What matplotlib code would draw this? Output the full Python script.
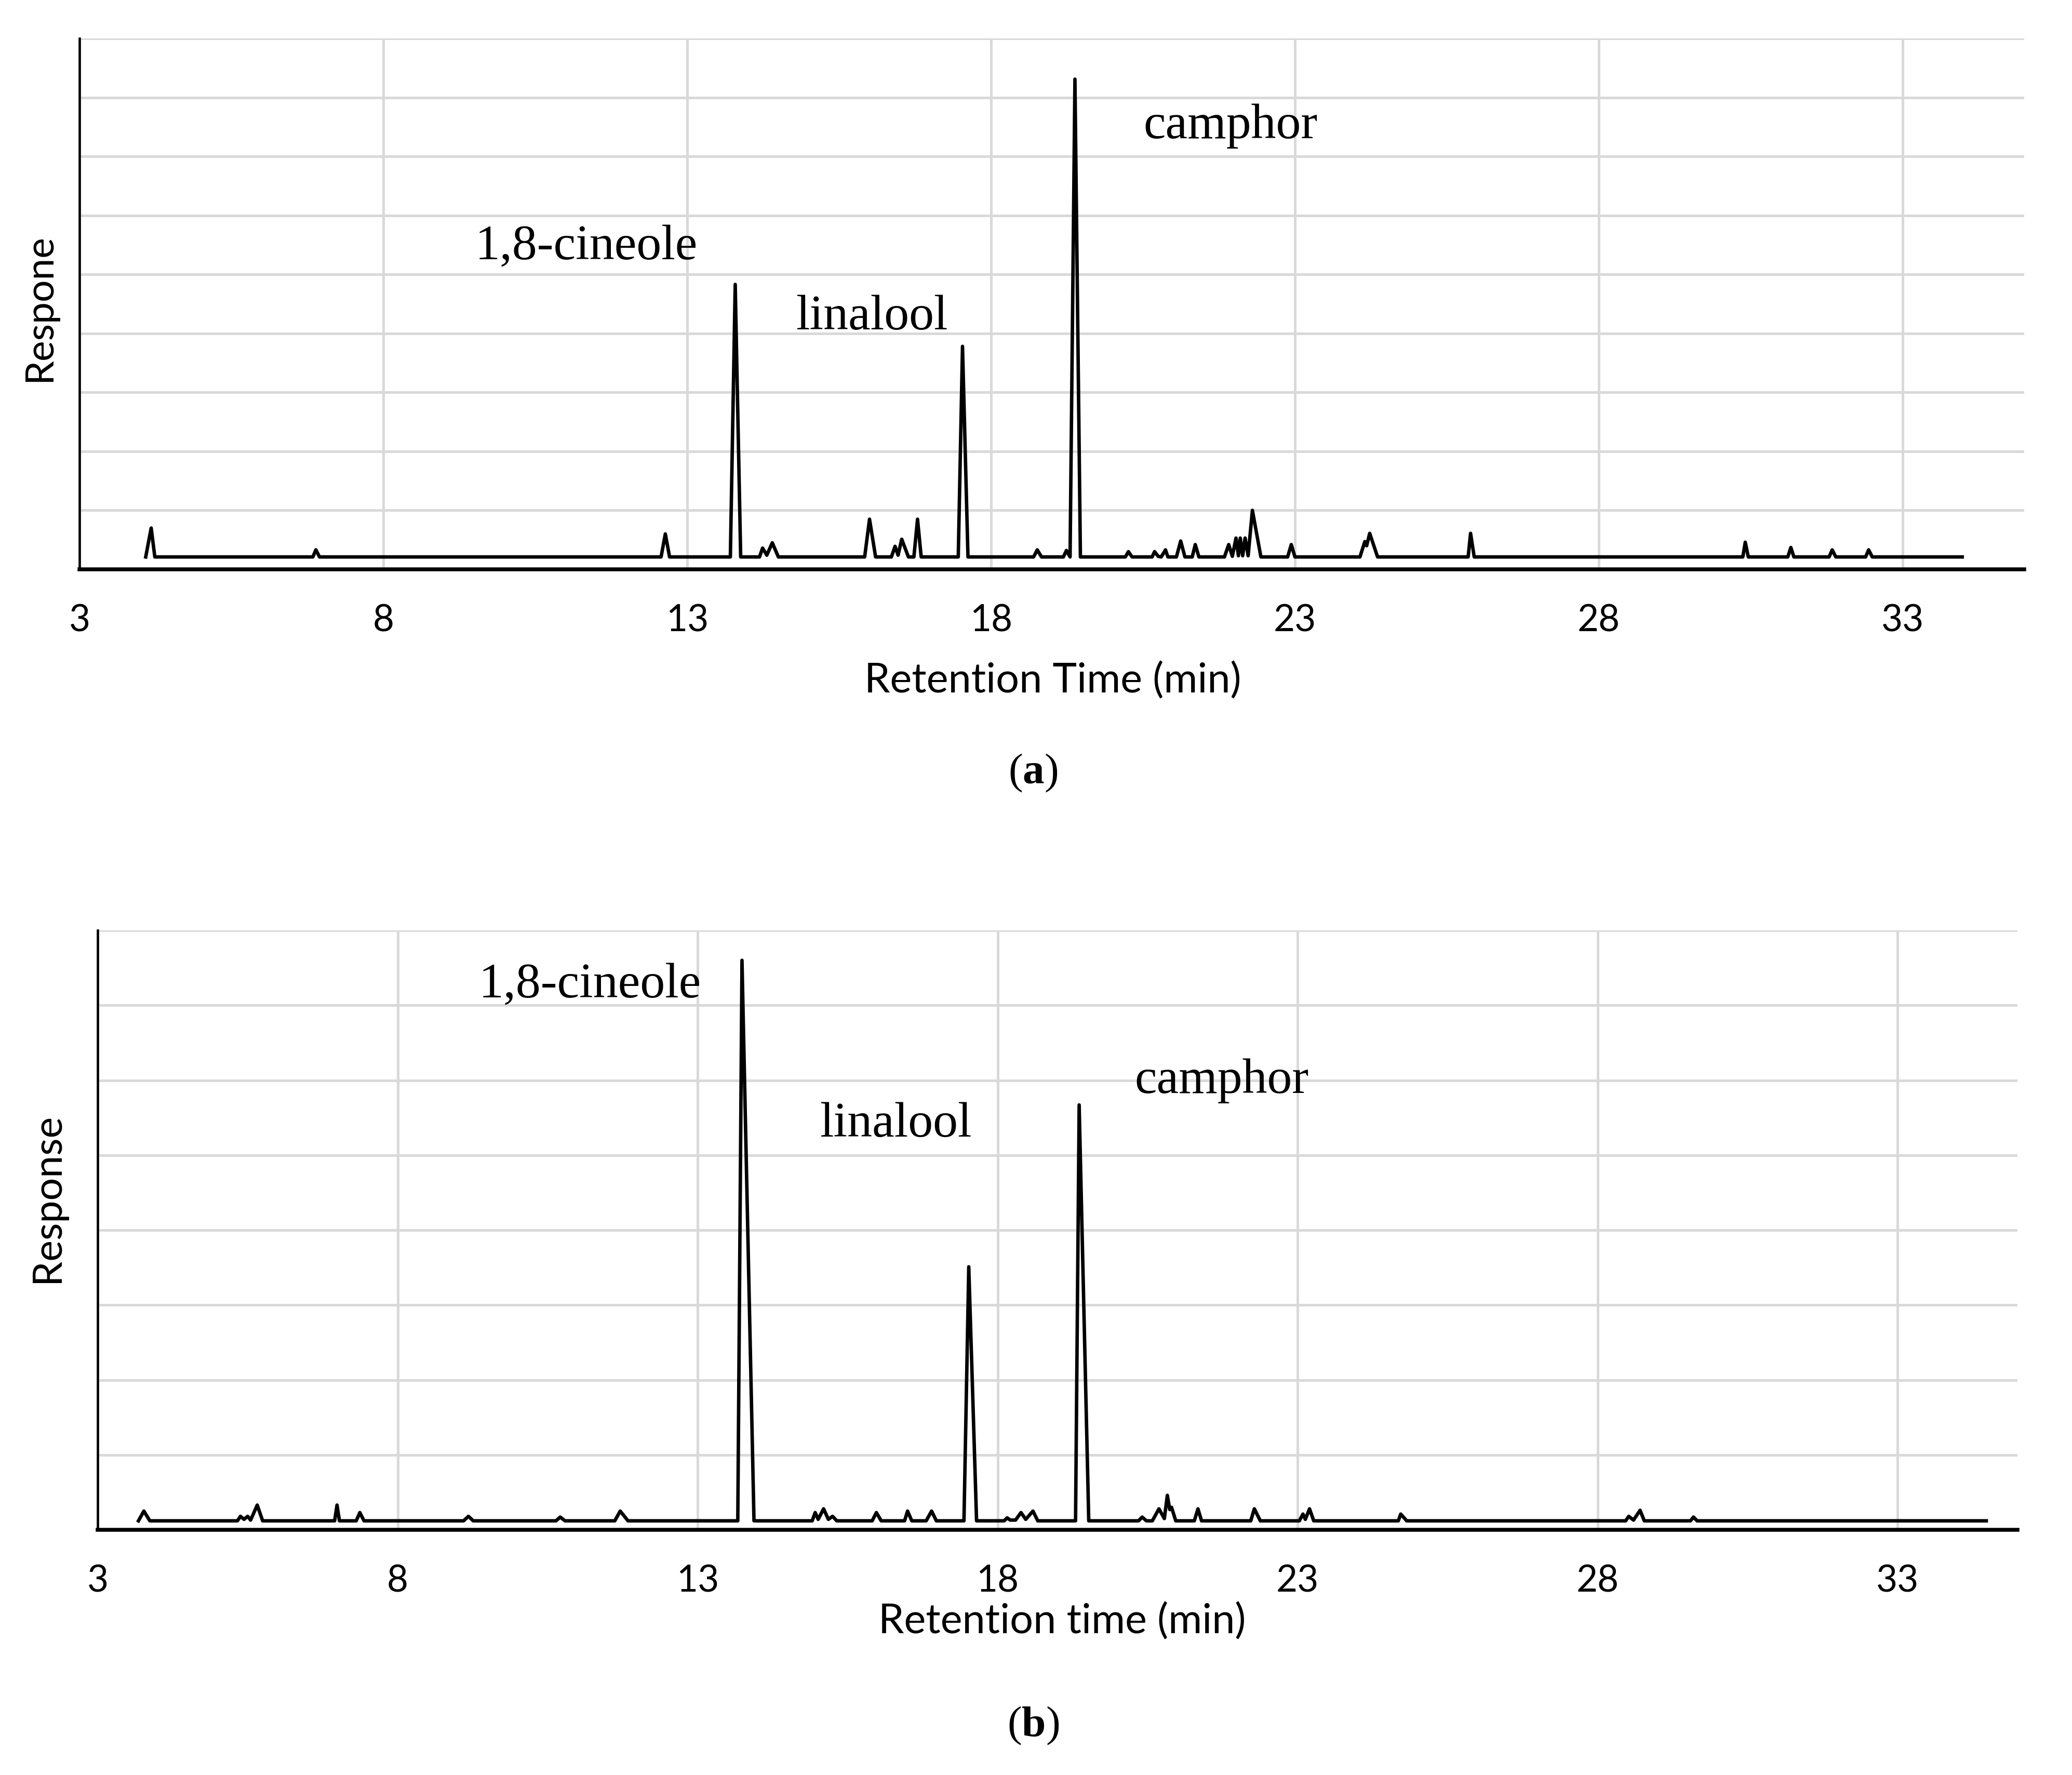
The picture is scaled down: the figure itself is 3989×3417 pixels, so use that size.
import matplotlib
matplotlib.use("Agg")
import matplotlib.pyplot as plt

plt.rcParams['mathtext.fontset'] = 'custom'
plt.rcParams['mathtext.rm'] = 'Liberation Serif'
plt.rcParams['mathtext.bf'] = 'Liberation Serif:bold'

# ---------------- data ----------------
x_ticks = [3, 8, 13, 18, 23, 28, 33]
compounds = ['1,8-cineole', 'linalool', 'camphor']

# chromatogram (a): polyline vertices (retention time, response)
time_a = [4.09, 4.18, 4.24,
          6.84, 6.89, 6.95,
          12.57, 12.64, 12.71,
          13.71, 13.79, 13.88,
          14.19, 14.24, 14.31, 14.40, 14.50,
          15.92, 16.00, 16.10,
          16.36, 16.42, 16.47, 16.53, 16.64,
          16.73, 16.79, 16.85,
          17.46, 17.53, 17.62,
          18.70, 18.76, 18.83,
          19.19, 19.24, 19.30, 19.38, 19.47,
          20.21, 20.26, 20.32,
          20.65, 20.69, 20.75, 20.80, 20.87, 20.91,
          21.05, 21.12, 21.19,
          21.31, 21.36, 21.42,
          21.84, 21.91, 21.97, 22.03, 22.07, 22.10, 22.14, 22.18, 22.23, 22.30, 22.44,
          22.88, 22.94, 23.00,
          24.07, 24.15, 24.18, 24.23, 24.36,
          25.85, 25.89, 25.95,
          30.37, 30.41, 30.46,
          31.11, 31.16, 31.21,
          31.79, 31.84, 31.90,
          32.39, 32.44, 32.50,
          33.98]
resp_a = [0.21, 0.70, 0.21,
          0.21, 0.33, 0.21,
          0.21, 0.60, 0.21,
          0.21, 4.83, 0.21,
          0.21, 0.36, 0.24, 0.45, 0.21,
          0.21, 0.85, 0.21,
          0.21, 0.39, 0.24, 0.51, 0.21,
          0.21, 0.85, 0.21,
          0.21, 3.78, 0.21,
          0.21, 0.33, 0.21,
          0.21, 0.32, 0.21, 8.31, 0.21,
          0.21, 0.30, 0.21,
          0.21, 0.30, 0.22, 0.21, 0.33, 0.21,
          0.21, 0.48, 0.21,
          0.21, 0.42, 0.21,
          0.21, 0.42, 0.22, 0.53, 0.23, 0.53, 0.23, 0.53, 0.23, 1.00, 0.21,
          0.21, 0.42, 0.21,
          0.21, 0.47, 0.40, 0.61, 0.21,
          0.21, 0.61, 0.21,
          0.21, 0.46, 0.21,
          0.21, 0.37, 0.21,
          0.21, 0.33, 0.21,
          0.21, 0.33, 0.21,
          0.21]

# chromatogram (b)
time_b = [3.68, 3.77, 3.87,
          5.33, 5.38, 5.44, 5.50, 5.55, 5.66, 5.75,
          6.95, 6.99, 7.03,
          7.31, 7.37, 7.44,
          9.10, 9.18, 9.26,
          10.64, 10.71, 10.79,
          11.62, 11.71, 11.84,
          13.67, 13.74, 13.94,
          14.91, 14.96, 15.01, 15.10, 15.18, 15.25, 15.32,
          15.91, 15.98, 16.06,
          16.45, 16.50, 16.57,
          16.81, 16.90, 16.98,
          17.44, 17.52, 17.65,
          18.11, 18.16, 18.21, 18.30, 18.39, 18.47, 18.59, 18.67,
          19.30, 19.36, 19.52,
          20.35, 20.41, 20.48,
          20.58, 20.69, 20.78, 20.83, 20.87, 20.90, 20.97,
          21.28, 21.34, 21.40,
          22.22, 22.28, 22.38,
          23.03, 23.09, 23.13, 23.20, 23.27,
          24.68, 24.72, 24.82,
          28.47, 28.52, 28.60, 28.71, 28.78,
          29.55, 29.60, 29.66,
          34.48]
resp_b = [0.12, 0.25, 0.12,
          0.12, 0.18, 0.14, 0.18, 0.13, 0.33, 0.12,
          0.12, 0.33, 0.12,
          0.12, 0.23, 0.12,
          0.12, 0.18, 0.12,
          0.12, 0.17, 0.12,
          0.12, 0.25, 0.12,
          0.12, 7.60, 0.12,
          0.12, 0.23, 0.14, 0.28, 0.14, 0.18, 0.12,
          0.12, 0.23, 0.12,
          0.12, 0.25, 0.12,
          0.12, 0.25, 0.12,
          0.12, 3.51, 0.12,
          0.12, 0.16, 0.13, 0.13, 0.23, 0.14, 0.25, 0.12,
          0.12, 5.67, 0.12,
          0.12, 0.17, 0.12,
          0.12, 0.28, 0.15, 0.46, 0.27, 0.30, 0.12,
          0.12, 0.28, 0.12,
          0.12, 0.28, 0.12,
          0.12, 0.21, 0.14, 0.28, 0.12,
          0.12, 0.21, 0.12,
          0.12, 0.18, 0.13, 0.26, 0.12,
          0.12, 0.17, 0.12,
          0.12]

# ---------------- figure ----------------
W, H = 3989, 3417
fig = plt.figure(figsize=(W / 300, H / 300), dpi=300)

GRID = '#d9d9d9'
SANS = ['Lato', 'DejaVu Sans']
SERIF = ['Liberation Serif', 'DejaVu Serif']


def style_axes(ax, ymax):
    ax.set_xlim(3, 35)
    ax.set_ylim(0, ymax)
    ax.set_xticks(x_ticks)
    ax.set_yticks(list(range(1, ymax + 1)))
    ax.set_yticklabels([])
    ax.grid(True, color=GRID, linewidth=1.2)
    ax.set_axisbelow(True)
    for s in ('top', 'right'):
        ax.spines[s].set_visible(False)
    ax.spines['left'].set_linewidth(1.1)
    ax.spines['bottom'].set_linewidth(1.8)
    ax.tick_params(axis='both', length=0)
    ax.tick_params(axis='x', pad=16, labelsize=17)
    for lab in ax.get_xticklabels():
        lab.set_family(SANS)


# ---- panel (a)
ax1 = fig.add_axes([153 / W, 1 - 1096 / H, 3744 / W, 1022 / H])
ax1.plot(time_a, resp_a, color='black', linewidth=1.6, solid_joinstyle='round')
style_axes(ax1, 9)
ax1.set_xlabel('Retention Time (min)', family=SANS, fontsize=19, va='top')
ax1.xaxis.set_label_coords(0.5005, -0.174)
ax1.set_ylabel('Respone', family=SANS, fontsize=18, va='center')
ax1.yaxis.set_label_coords(-0.0206, 0.493)
for name, x, y in zip(compounds, [11.34, 16.04, 21.94], [5.25, 4.07, 7.31]):
    ax1.text(x, y, name, family=SERIF, fontsize=23, ha='center', va='baseline')

# ---- panel (b)
ax2 = fig.add_axes([188 / W, 1 - 2945 / H, 3696 / W, 1154 / H])
ax2.plot(time_b, resp_b, color='black', linewidth=1.6, solid_joinstyle='round')
style_axes(ax2, 8)
ax2.set_xlabel('Retention time (min)', family=SANS, fontsize=19, va='top')
ax2.xaxis.set_label_coords(0.5024, -0.121)
ax2.set_ylabel('Response', family=SANS, fontsize=18.5, va='center')
ax2.yaxis.set_label_coords(-0.026, 0.554)
for name, x, y in zip(compounds, [11.21, 16.30, 21.74], [7.10, 5.25, 5.83]):
    ax2.text(x, y, name, family=SERIF, fontsize=23, ha='center', va='baseline')

# ---- captions
fig.text(1989 / W, 1 - 1488 / H, r'($\mathbf{a}$)', family=SERIF, fontsize=20,
         ha='center', va='center')
fig.text(1989 / W, 1 - 3322 / H, r'($\mathbf{b}$)', family=SERIF, fontsize=20,
         ha='center', va='center')

fig.savefig('out.png', dpi=300, facecolor='white')
